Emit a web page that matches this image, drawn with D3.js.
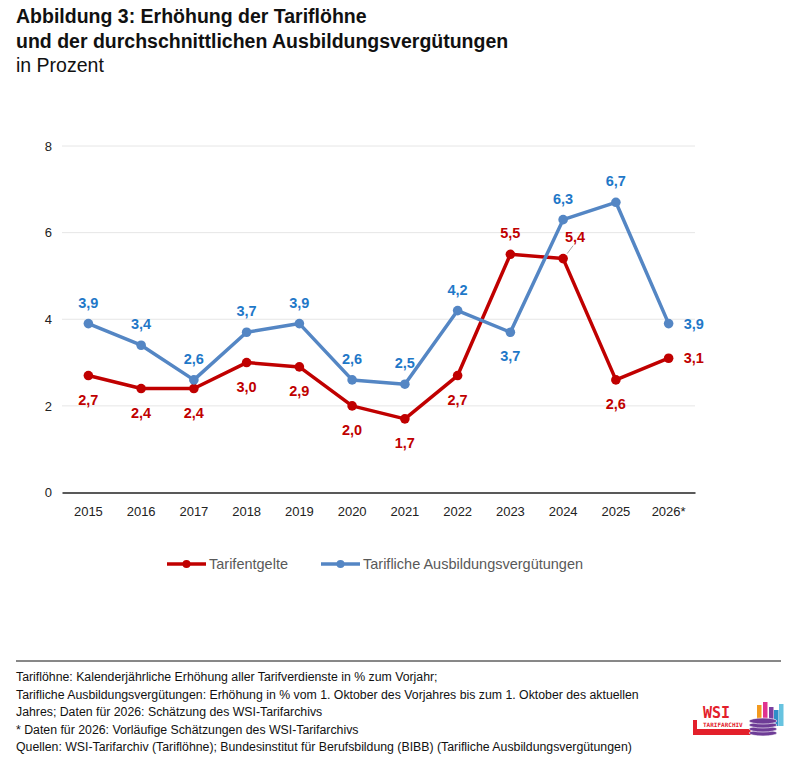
<!DOCTYPE html>
<html><head><meta charset="utf-8">
<script src="https://cdn.jsdelivr.net/npm/d3@7/dist/d3.min.js"></script>
<style>
body{margin:0;background:#fff;}
svg{display:block;font-family:"Liberation Sans",Arial,sans-serif;}
</style></head><body>
<svg id="c" width="799" height="762"></svg>
<script>
const years = ["2015","2016","2017","2018","2019","2020","2021","2022","2023","2024","2025","2026*"];
const tarifentgelte = [2.7,2.4,2.4,3.0,2.9,2.0,1.7,2.7,5.5,5.4,2.6,3.1];
const ausbildung = [3.9,3.4,2.6,3.7,3.9,2.6,2.5,4.2,3.7,6.3,6.7,3.9];
const yTicks = [0,2,4,6,8];
const redLabelPlace = ["below","below","below","below","below","below","below","below","above","leader","below","right"];
const blueLabelPlace = ["above","above","above","above","above","above","above","above","below","above","above","right"];
const seriesNames = ["Tarifentgelte","Tarifliche Ausbildungsvergütungen"];
const footnotes = [
 "Tariflöhne: Kalenderjährliche Erhöhung aller Tarifverdienste in % zum Vorjahr;",
 "Tarifliche Ausbildungsvergütungen: Erhöhung in % vom 1. Oktober des Vorjahres bis zum 1. Oktober des aktuellen",
 "Jahres; Daten für 2026: Schätzung des WSI-Tarifarchivs",
 "* Daten für 2026: Vorläufige Schätzungen des WSI-Tarifarchivs",
 "Quellen: WSI-Tarifarchiv (Tariflöhne); Bundesinstitut für Berufsbildung (BIBB) (Tarifliche Ausbildungsvergütungen)"
];

const RED="#C00000", BLUE_LINE="#5486C4", BLUE_TXT="#1F78C8";
const svg = d3.select("#c");

// Title
svg.append("text").attr("x",16).attr("y",23).attr("font-size",19.5).attr("font-weight","bold").attr("fill","#111")
  .text("Abbildung 3: Erhöhung der Tariflöhne");
svg.append("text").attr("x",16).attr("y",47.5).attr("font-size",19.5).attr("font-weight","bold").attr("fill","#111")
  .text("und der durchschnittlichen Ausbildungsvergütungen");
svg.append("text").attr("x",16).attr("y",72).attr("font-size",19.5).attr("fill","#111")
  .text("in Prozent");

const x = d3.scaleBand().domain(years).range([62,695]);
const y = d3.scaleLinear().domain([0,8]).range([492.5,146]);
const cx = d => x(d)+x.bandwidth()/2;

// grid
svg.append("g").selectAll("line").data(yTicks.filter(t=>t>0)).join("line")
  .attr("x1",62).attr("x2",695).attr("y1",d=>y(d)).attr("y2",d=>y(d))
  .attr("stroke","#e6e6e6").attr("stroke-width",1);

// y axis labels
const ya = svg.append("g").attr("transform","translate(52,0)")
  .call(d3.axisLeft(y).tickValues(yTicks).tickSize(0).tickPadding(0).tickFormat(d3.format("d")));
ya.select(".domain").remove();
ya.selectAll("text").attr("font-size",13).attr("fill","#222").attr("font-family","Liberation Sans, Arial, sans-serif");

// x axis
const xa = svg.append("g").attr("transform",`translate(0,${y(0)})`)
  .call(d3.axisBottom(x).tickSize(0).tickPadding(14));
xa.select(".domain").attr("stroke","#222").attr("stroke-width",1.5);
xa.selectAll("text").attr("font-size",13).attr("fill","#222").attr("font-family","Liberation Sans, Arial, sans-serif");

const line = d3.line().x((d,i)=>cx(years[i])).y(d=>y(d));

function drawSeries(vals, lineColor, txtColor, places){
  svg.append("path").datum(vals).attr("d",line).attr("fill","none")
    .attr("stroke",lineColor).attr("stroke-width",3.5).attr("stroke-linejoin","round");
  svg.append("g").selectAll("circle").data(vals).join("circle")
    .attr("cx",(d,i)=>cx(years[i])).attr("cy",d=>y(d)).attr("r",4.8).attr("fill",lineColor);
  const g = svg.append("g");
  vals.forEach((v,i)=>{
    const px=cx(years[i]), py=y(v), p=places[i];
    let tx=px, ty=py, anchor="middle";
    if(p==="above"){ty=py-21;}
    else if(p==="below"){ty=py+24;}
    else if(p==="right"){tx=px+15; anchor="start";}
    else if(p==="leader"){tx=px+12; ty=py-22;
      g.append("line").attr("x1",px+4).attr("y1",py-5).attr("x2",px+10).attr("y2",py-13)
        .attr("stroke","#a6a6a6").attr("stroke-width",1);
    }
    g.append("text").attr("x",tx).attr("y",ty).attr("dy","0.35em").attr("text-anchor",anchor)
      .attr("font-size",14.5).attr("font-weight","bold").attr("fill",txtColor)
      .text(d3.format(".1f")(v).replace(".",","));
  });
}
drawSeries(tarifentgelte, RED, RED, redLabelPlace);
drawSeries(ausbildung, BLUE_LINE, BLUE_TXT, blueLabelPlace);

// legend
const leg = svg.append("g");
const legItems = [{name:seriesNames[0],c:RED,x0:167},{name:seriesNames[1],c:BLUE_LINE,x0:321}];
legItems.forEach(it=>{
  leg.append("line").attr("x1",it.x0).attr("x2",it.x0+39).attr("y1",564).attr("y2",564)
    .attr("stroke",it.c).attr("stroke-width",3.5);
  leg.append("circle").attr("cx",it.x0+19.5).attr("cy",564).attr("r",4).attr("fill",it.c);
  leg.append("text").attr("x",it.x0+42).attr("y",564).attr("dy","0.35em").attr("font-size",14.5)
    .attr("fill","#595959").text(it.name);
});

// separator
svg.append("line").attr("x1",16).attr("x2",781).attr("y1",661).attr("y2",661).attr("stroke","#111").attr("stroke-width",1);

// footnotes
svg.append("g").selectAll("text").data(footnotes).join("text")
  .attr("x",16).attr("y",(d,i)=>681+i*17.6).attr("font-size",12.3).attr("fill","#111").text(d=>d);

// logo
const lg = svg.append("g");
lg.append("rect").attr("x",693).attr("y",720).attr("width",4).attr("height",15).attr("fill","#E3202B");
lg.append("rect").attr("x",693).attr("y",729).attr("width",58).attr("height",6).attr("fill","#E3202B");
lg.append("text").attr("x",703).attr("y",718).attr("font-size",15).attr("font-weight","bold")
  .attr("font-family","DejaVu Sans Mono, monospace").attr("fill","#E3202B").text("WSI");
lg.append("text").attr("x",703).attr("y",727).attr("font-size",6).attr("font-weight","bold")
  .attr("font-family","DejaVu Sans Mono, monospace").attr("fill","#E3202B").text("TARIFARCHIV");
const bars=[{x:757,y:705,c:"#F39A1E"},{x:763,y:702,c:"#E0338F"},{x:769,y:707,c:"#7B3FA0"},{x:774,y:710,c:"#2E8FC8"},{x:779,y:704,c:"#67C3E0"}];
bars.forEach(b=>lg.append("rect").attr("x",b.x).attr("y",b.y).attr("width",4.5).attr("height",726-b.y).attr("fill",b.c));
[0,1,2,3].forEach(k=>{
  lg.append("ellipse").attr("cx",763).attr("cy",733-k*4).attr("rx",14).attr("ry",3).attr("fill","#6E3C96").attr("stroke","#fff").attr("stroke-width",0.6);
});
</script>
</body></html>
